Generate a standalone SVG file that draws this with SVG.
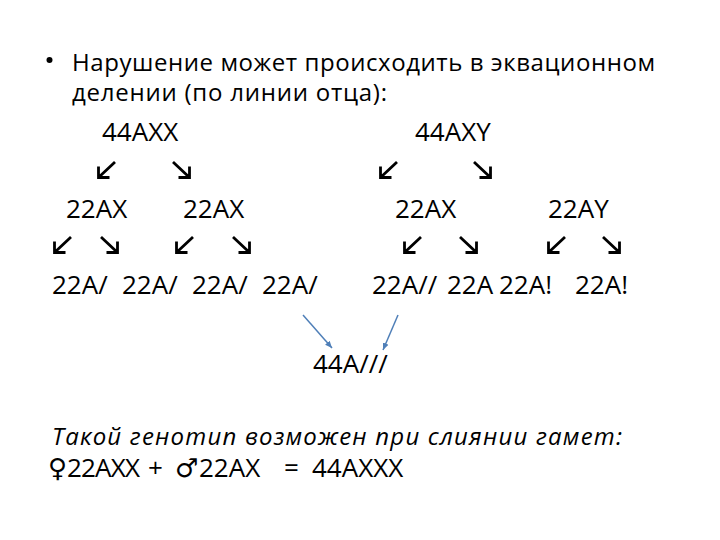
<svg xmlns="http://www.w3.org/2000/svg" width="720" height="540" viewBox="0 0 720 540">
<style>
.t{font-family:"Open Sans","Noto Sans","DejaVu Sans",sans-serif;font-size:24px;fill:#000}
.n{font-size:26px}
.i{font-style:italic}
.ga{fill:none;stroke:#000;stroke-width:2.8;stroke-linecap:butt}
.cn{fill:none;stroke:#4f7fb8;stroke-width:1.5}
</style>
<defs>
<path id="sw" class="ga" d="M18,0 L1.5,15.5 M1.5,4.5 L1.5,15.5 L12.5,15.5"/>
<path id="se" class="ga" d="M0,0 L16.5,15.5 M16.5,4.5 L16.5,15.5 L5.5,15.5"/>
<marker id="ah" markerWidth="8" markerHeight="8" refX="7" refY="4" orient="auto" markerUnits="userSpaceOnUse">
<path d="M0,1 L7,4 L0,7 Z" fill="#4f7fb8"/>
</marker>
</defs>
<rect width="720" height="540" fill="#fff"/>
<g id="header">
<circle cx="49.5" cy="60" r="3" fill="#000"/>
<text class="t" x="72" y="71" textLength="583">Нарушение может происходить в эквационном</text>
<text class="t" x="72" y="101" textLength="315">делении (по линии отца):</text>
</g>
<g id="n-44AXX"><text class="t n" x="102" y="141">44AXX</text></g>
<g id="n-44AXY"><text class="t n" x="415" y="141">44AXY</text></g>
<g id="n-22AX-1"><text class="t n" x="66" y="218">22AX</text></g>
<g id="n-22AX-2"><text class="t n" x="183" y="218">22AX</text></g>
<g id="n-22AX-3"><text class="t n" x="395" y="218">22AX</text></g>
<g id="n-22AY"><text class="t n" x="548" y="218">22AY</text></g>
<g id="n-g1"><text class="t n" x="52" y="294">22A/</text></g>
<g id="n-g2"><text class="t n" x="122" y="294">22A/</text></g>
<g id="n-g3"><text class="t n" x="192" y="294">22A/</text></g>
<g id="n-g4"><text class="t n" x="262" y="294">22A/</text></g>
<g id="n-g5"><text class="t n" x="372" y="294">22A//</text></g>
<g id="n-g6"><text class="t n" x="447" y="294">22A</text></g>
<g id="n-g7"><text class="t n" x="499" y="294">22A!</text></g>
<g id="n-g8"><text class="t n" x="575" y="294">22A!</text></g>
<g id="n-44A"><text class="t n" x="313" y="373">44A///</text></g>
<g id="connectors">
<use href="#sw" x="97" y="162"/>
<use href="#se" x="173" y="162"/>
<use href="#sw" x="379" y="162"/>
<use href="#se" x="474" y="162"/>
<use href="#sw" x="53" y="237"/>
<use href="#se" x="101" y="237"/>
<use href="#sw" x="175" y="237"/>
<use href="#se" x="233" y="237"/>
<use href="#sw" x="403" y="237"/>
<use href="#se" x="460" y="237"/>
<use href="#sw" x="547" y="237"/>
<use href="#se" x="603" y="237"/>
<line class="cn" x1="303" y1="315" x2="332" y2="348" marker-end="url(#ah)"/>
<line class="cn" x1="398" y1="315" x2="383" y2="350" marker-end="url(#ah)"/>
</g>
<g id="footer">
<text class="t i" x="52" y="445" textLength="570">Такой генотип возможен при слиянии гамет:</text>
<text class="t n" x="48" y="477">♀</text>
<text class="t n" x="67" y="477" textLength="73">22AXX</text>
<text class="t n" x="148" y="477">+</text>
<text class="t n" x="175" y="477">♂</text>
<text class="t n" x="199" y="477">22AX</text>
<text class="t n" x="284" y="477">=</text>
<text class="t n" x="312" y="477">44AXXX</text>
</g>
</svg>
